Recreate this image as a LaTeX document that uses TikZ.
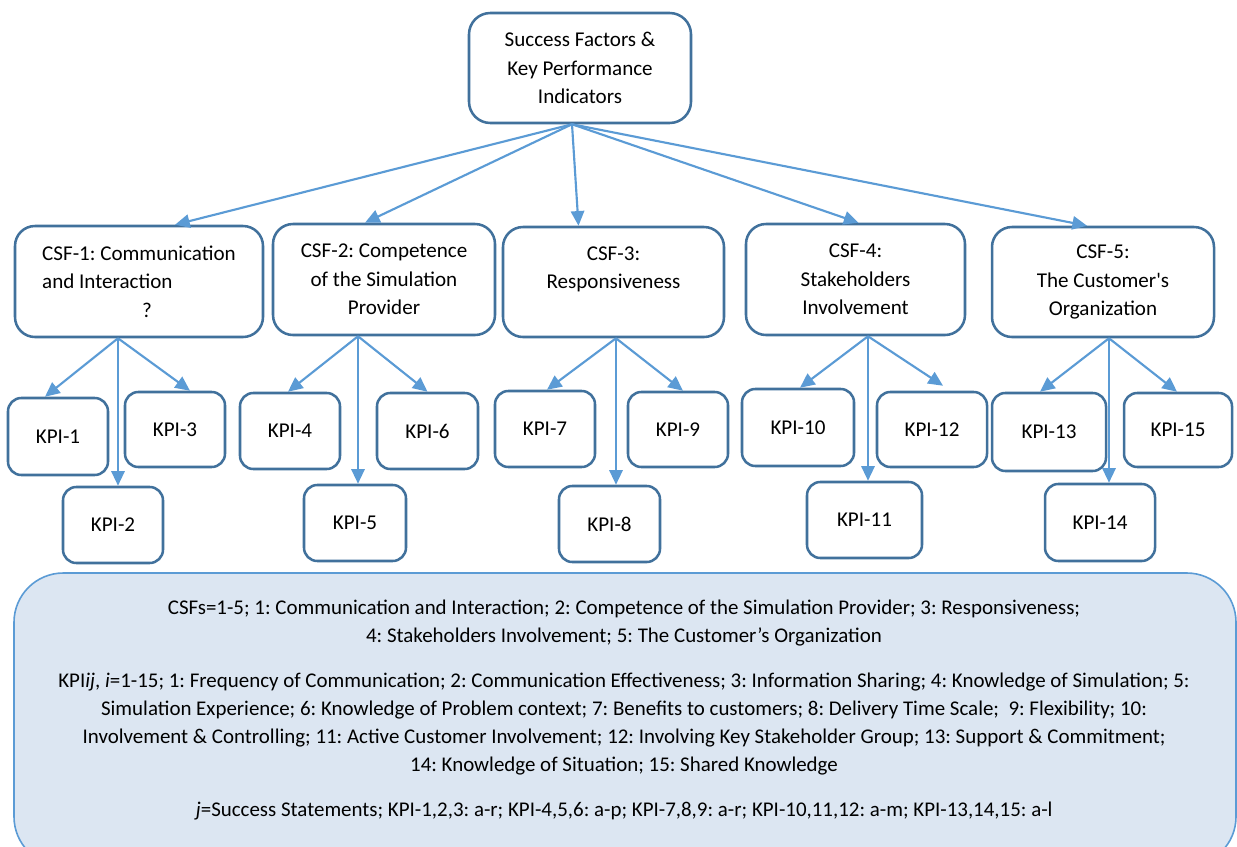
\documentclass[tikz,border=0pt]{standalone}
\usepackage{fontspec}
\setmainfont{Carlito}
\usetikzlibrary{arrows.meta,calc}
\definecolor{boxblue}{HTML}{41719C}
\definecolor{arrblue}{HTML}{5B9BD5}
\definecolor{legfill}{HTML}{DCE6F2}
\newcommand{\boxfont}{\fontsize{15.8pt}{21.4pt}\selectfont}
\newcommand{\legfont}{\fontsize{15.7pt}{21pt}\selectfont}
\frenchspacing
\begin{document}
\begin{tikzpicture}[x=0.75pt,y=-0.75pt,
  basebox/.style={draw=boxblue, line width=1.9pt, fill=white, inner sep=0pt, font=\boxfont, align=center, text=black},
  topbox/.style={basebox, rounded corners=16pt, minimum width=166.5pt, minimum height=82.5pt},
  csfbox/.style={basebox, rounded corners=15pt, minimum width=166.5pt, minimum height=83.25pt},
  kpibox/.style={basebox, rounded corners=10pt, minimum width=75pt, minimum height=57pt},
  arr/.style={draw=arrblue, line width=1.6pt, -{Triangle[length=11pt,width=10pt]}},
  legbox/.style={draw=arrblue, line width=1.2pt, fill=legfill, rounded corners=37pt, inner sep=0pt},
  legtxt/.style={font=\legfont, align=center, text=black, inner sep=0pt}]
\useasboundingbox (0,0) rectangle (1237,846);
\clip (0,0) rectangle (1237,846);

% legend box
\node[legbox, minimum width=916.5pt, minimum height=219.75pt] (leg) at (625,719.5) {};
\node[legtxt] (legtext) at (624,710) {CSFs=1-5; 1: Communication and Interaction; 2: Competence of the Simulation Provider; 3: Responsiveness;\\
4: Stakeholders Involvement; 5: The Customer’s Organization\\[12.75pt]
KPI\textit{ij}, \textit{i}=1-15; 1: Frequency of Communication; 2: Communication Effectiveness; 3: Information Sharing; 4: Knowledge of Simulation; 5:\\
Simulation Experience; 6: Knowledge of Problem context; 7: Benefits to customers; 8: Delivery Time Scale;\ \ 9: Flexibility; 10:\\
Involvement \& Controlling; 11: Active Customer Involvement; 12: Involving Key Stakeholder Group; 13: Support \& Commitment;\\
14: Knowledge of Situation; 15: Shared Knowledge\\[12.75pt]
\textit{j}=Success Statements; KPI-1,2,3: a-r; KPI-4,5,6: a-p; KPI-7,8,9: a-r; KPI-10,11,12: a-m; KPI-13,14,15: a-l};

% top
\node[topbox] (top) at (580,68) {Success Factors \&\\Key Performance\\Indicators};

% CSF boxes
\node[csfbox, minimum width=186pt, align=left] (csf1) at (139,281.5) {CSF-1: Communication\\and Interaction\\\hspace*{75pt}?};
\node[csfbox] (csf2) at (384,279.5) {CSF-2: Competence\\of the Simulation\\Provider};
\node[csfbox, minimum width=165.75pt, minimum height=82.5pt] (csf3) at (613.5,282) {CSF-3:\\Responsiveness\\\mbox{}};
\node[csfbox, minimum width=164.25pt] (csf4) at (855.5,279.5) {CSF-4:\\Stakeholders\\Involvement};
\node[csfbox, minimum height=82.5pt] (csf5) at (1103,282) {CSF-5:\\The Customer{\addfontfeature{Ligatures=TeXOff}'}s\\Organization};

% KPI boxes
\node[kpibox, minimum height=57.75pt] (k1) at (58,436.5) {KPI-1};
\node[kpibox] (k2) at (113,525) {KPI-2};
\node[kpibox, minimum height=56.25pt] (k3) at (175,429.5) {KPI-3};
\node[kpibox] (k4) at (290,431) {KPI-4};
\node[kpibox, minimum width=76.5pt] (k5) at (355,523) {KPI-5};
\node[kpibox, minimum width=75.75pt] (k6) at (427.5,431) {KPI-6};
\node[kpibox] (k7) at (545,429) {KPI-7};
\node[kpibox, minimum width=75.75pt] (k8) at (609.5,524) {KPI-8};
\node[kpibox, minimum height=56.25pt] (k9) at (678,429.5) {KPI-9};
\node[kpibox, minimum width=84pt, minimum height=57.75pt] (k10) at (798,427.5) {KPI-10};
\node[kpibox, minimum width=86.25pt] (k11) at (864.5,520) {KPI-11};
\node[kpibox, minimum width=82.5pt, minimum height=56.25pt] (k12) at (932,429.5) {KPI-12};
\node[kpibox, minimum width=85.5pt, minimum height=58.5pt] (k13) at (1049,432) {KPI-13};
\node[kpibox, minimum width=82.5pt, minimum height=57.75pt] (k14) at (1100,522.5) {KPI-14};
\node[kpibox, minimum width=81pt, minimum height=55.5pt] (k15) at (1178,430) {KPI-15};

% arrows from top
\coordinate (o) at ($(top.south)+(-8,0)$);
\draw[arr] (o) -- ($(csf1.north)+(36,0)$);
\draw[arr] (o) -- ($(csf2.north)+(-19,0)$);
\draw[arr] (o) -- ($(csf3.north)+(-35,0)$);
\draw[arr] (o) -- ($(csf4.north)+(3,0)$);
\draw[arr] (o) -- ($(csf5.north)+(-16,0)$);

% arrows from CSFs
\coordinate (o1) at ($(csf1.south)+(-21,0)$);
\draw[arr] (o1) -- ($(k1.north)+(-13,0)$);
\draw[arr] (o1) -- ($(k2.north)+(5,0)$);
\draw[arr] (o1) -- ($(k3.north)+(15,0)$);
\coordinate (o2) at ($(csf2.south)+(-26,0)$);
\draw[arr] (o2) -- ($(k4.north)+(-2,0)$);
\draw[arr] (o2) -- ($(k5.north)+(3,0)$);
\draw[arr] (o2) -- (k6.north);
\coordinate (o3) at ($(csf3.south)+(2.5,0)$);
\draw[arr] (o3) -- ($(k7.north)+(2,0)$);
\draw[arr] (o3) -- ($(k8.north)+(6.5,0)$);
\draw[arr] (o3) -- ($(k9.north)+(5,0)$);
\coordinate (o4) at ($(csf4.south)+(12.5,0)$);
\draw[arr] (o4) -- ($(k10.north)+(2,0)$);
\draw[arr] (o4) -- ($(k11.north)+(3.5,0)$);
\draw[arr] (o4) -- ($(k12.north)+(11,-5)$);
\coordinate (o5) at ($(csf5.south)+(6,0)$);
\draw[arr] (o5) -- ($(k13.north)+(-9,0)$);
\draw[arr] (o5) -- ($(k14.north)+(9,0)$);
\draw[arr] (o5) -- ($(k15.north)+(-1,0)$);
\end{tikzpicture}
\end{document}
